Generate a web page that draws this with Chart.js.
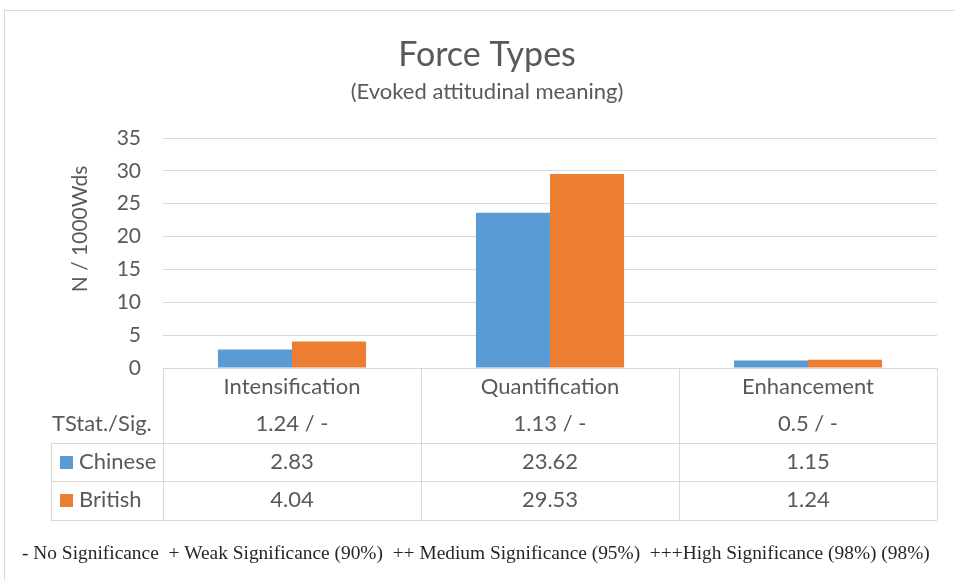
<!DOCTYPE html>
<html>
<head>
<meta charset="utf-8">
<script src="https://cdn.jsdelivr.net/npm/chart.js@4"></script>
<style>
  html, body { margin: 0; padding: 0; background: #fff; }
  #wrap { width: 955px; height: 580px; position: relative; }
</style>
</head>
<body>
<div id="wrap"><canvas id="chart"></canvas></div>
<script>
var categories = ['Intensification', 'Quantification', 'Enhancement']
var chinese = [2.83, 23.62, 1.15]
var british = [4.04, 29.53, 1.24]
var tstat = ['1.24 / -', '1.13 / -', '0.5 / -']
var yTicks = [0, 5, 10, 15, 20, 25, 30, 35]

var textColor = '#595959'
var lineColor = '#d9d9d9'
var blue = '#5b9bd5'
var orange = '#ed7d31'
var font = 'Lato'

/* draws the frame, titles, data table and footnote round the bars */
const tablePlugin = {
    id: 'tablePlugin',
    afterDraw(chart) {
        const ctx = chart.ctx
        const x = chart.scales.x
        const band = (x.right - x.left) / categories.length
        const top = x.top
        const rowY = [387, 424, 462, 500]
        const lines = [443, 481, 520]
        const labelLeft = 51

        ctx.save()
        // outer frame
        ctx.strokeStyle = lineColor
        ctx.lineWidth = 1
        ctx.strokeRect(4.5, 10.5, 1000, 1000)

        // titles
        ctx.fillStyle = textColor
        ctx.textAlign = 'center'
        ctx.textBaseline = 'middle'
        ctx.font = '34px ' + font
        ctx.fillText('Force Types', 487, 55)
        ctx.font = '22px ' + font
        ctx.fillText('(Evoked attitudinal meaning)', 487, 92)

        // y axis title, sits a little above the plot middle
        ctx.save()
        ctx.translate(80, 229)
        ctx.rotate(-Math.PI / 2)
        ctx.font = '21px ' + font
        ctx.fillText('N / 1000Wds', 0, 0)
        ctx.restore()

        // table lines
        ctx.beginPath()
        for (let i = 0; i <= categories.length; i++) {
            const px = Math.round(x.left + band * i) + 0.5
            ctx.moveTo(px, top)
            ctx.lineTo(px, lines[2])
        }
        lines.forEach(function (ly) {
            ctx.moveTo(labelLeft, ly + 0.5)
            ctx.lineTo(x.right, ly + 0.5)
        })
        ctx.moveTo(labelLeft + 0.5, lines[0])
        ctx.lineTo(labelLeft + 0.5, lines[2])
        ctx.stroke()

        // table cells
        ctx.font = '22px ' + font
        ctx.fillStyle = textColor
        categories.forEach(function (c, i) {
            const cx = x.getPixelForValue(i)
            ctx.fillText(tstat[i], cx, rowY[1])
            ctx.fillText(chinese[i].toFixed(2), cx, rowY[2])
            ctx.fillText(british[i].toFixed(2), cx, rowY[3])
        })

        // row headers
        ctx.textAlign = 'left'
        ctx.fillText('TStat./Sig.', 52, rowY[1])
        ctx.fillText('Chinese', 79, rowY[2])
        ctx.fillText('British', 79, rowY[3])
        ctx.fillStyle = blue
        ctx.fillRect(60, rowY[2] - 6, 13, 13)
        ctx.fillStyle = orange
        ctx.fillRect(60, rowY[3] - 6, 13, 13)

        // footnote
        ctx.fillStyle = '#262626'
        ctx.font = '19.4px "Liberation Serif"'
        ctx.fillText('- No Significance  + Weak Significance (90%)  ++ Medium Significance (95%)  +++High Significance (98%) (98%)', 22, 554)
        ctx.restore()
    }
}

const chartContainer = document.getElementById('chart')

const myChart = new Chart(chartContainer, {
    type: 'bar',
    data: {
        labels: categories,
        datasets: [{
            label: 'Chinese',
            data: chinese,
            backgroundColor: blue,
            categoryPercentage: 0.574,
            barPercentage: 1.0,
        },
        {
            label: 'British',
            data: british,
            backgroundColor: orange,
            categoryPercentage: 0.574,
            barPercentage: 1.0,
        }]
    },
    options: {
        responsive: true,
        maintainAspectRatio: false,
        animation: false,
        layout: {
            padding: { top: 138, right: 18, bottom: 0, left: 0 }
        },
        plugins: {
            legend: { display: false },
            tooltip: { enabled: false },
            title: { display: false }
        },
        scales: {
            x: {
                grid: { display: false, drawTicks: false },
                border: { display: false },
                ticks: {
                    color: textColor,
                    font: { family: font, size: 22 },
                    padding: 6,
                },
                afterFit: function (scale) { scale.height = 212 }
            },
            y: {
                min: 0,
                max: 35,
                afterBuildTicks: function (scale) {
                    scale.ticks = yTicks.map(function (v) { return { value: v } })
                },
                grid: { color: lineColor, lineWidth: 1, drawTicks: false },
                border: { display: false },
                ticks: {
                    color: textColor,
                    font: { family: font, size: 21 },
                    padding: 22,
                },
                afterFit: function (scale) { scale.width = 163 }
            }
        }
    },
    plugins: [tablePlugin]
})
</script>
</body>
</html>
